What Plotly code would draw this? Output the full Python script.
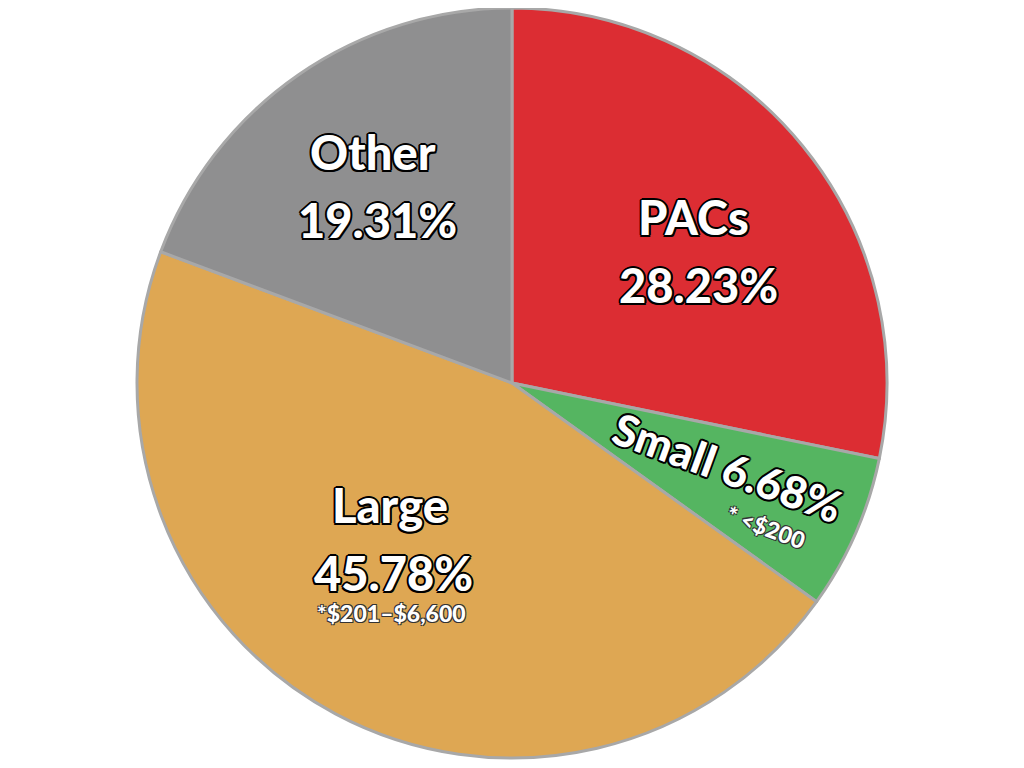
import plotly.graph_objects as go

categories = ["PACs", "Small", "Large", "Other"]
values = [28.23, 6.68, 45.78, 19.31]
colors = ["#DC2D33", "#55B561", "#DEA753", "#8F8F90"]

W, H = 1008, 752   # page has an 8px body margin
OFF = 8
cx, cy, r = 512 - OFF, 383 - OFF, 375

fig = go.Figure(go.Pie(
    labels=categories, values=values, sort=False, direction="clockwise",
    rotation=0, textinfo="none", hoverinfo="label+percent",
    marker=dict(colors=colors, line=dict(color="#A8A8A8", width=3)),
    domain=dict(x=[(cx - r) / W, (cx + r) / W], y=[1 - (cy + r) / H, 1]),
    showlegend=False,
))

shadow = ("2px 0 0 #000, -2px 0 0 #000, 0 2px 0 #000, 0 -2px 0 #000, "
          "1.5px 1.5px 0 #000, -1.5px -1.5px 0 #000, 1.5px -1.5px 0 #000, -1.5px 1.5px 0 #000")
big = dict(family="Lato", size=47, color="white", weight=900, shadow=shadow)
mid = dict(big, size=44)
small = dict(family="Lato", size=23, color="white", weight=900,
             shadow="1px 1px 0 #333, -1px -1px 0 #333, 1px -1px 0 #333, -1px 1px 0 #333")

def ann(x, y, text, font, angle=0):
    fig.add_annotation(x=(x - OFF) / W, y=1 - (y - OFF) / H, xref="paper", yref="paper",
                       text=text, showarrow=False, font=font, textangle=angle,
                       xanchor="center", yanchor="middle")

ann(693, 217, "PACs", big)
ann(698, 285, "28.23%", big)
ann(373, 152, "Other", big)
ann(377, 220, "19.31%", big)
ann(390, 505, "Large", big)
ann(393, 573, "45.78%", big)
ann(391, 613, "*$201–$6,600", small)
ann(728, 467, "Small 6.68%", mid, 20)
ann(766, 527, "* <$200", small, 20)

fig.update_layout(width=W, height=H, margin=dict(l=0, r=0, t=0, b=0),
                  paper_bgcolor="white", plot_bgcolor="white")
fig.write_html("out.html")
